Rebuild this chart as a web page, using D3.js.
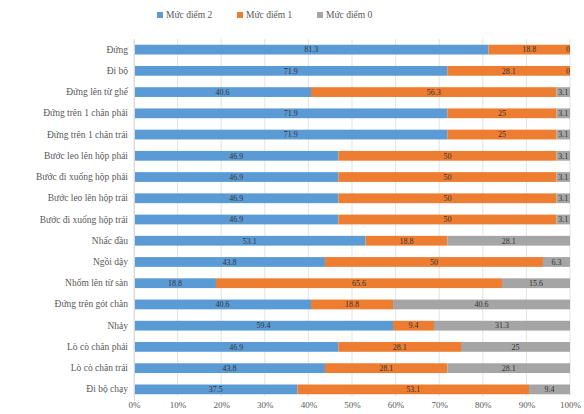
<!DOCTYPE html>
<html>
<head>
<meta charset="utf-8">
<script src="https://cdn.jsdelivr.net/npm/d3@7"></script>
<style>
  body { margin: 0; background: #fff; }
  svg { font-family: "Liberation Serif", "DejaVu Serif", serif; }
</style>
</head>
<body>
<div id="chart"></div>
<script>
const categories = [
  'Đứng', 'Đi bộ', 'Đứng lên từ ghế', 'Đứng trên 1 chân phải', 'Đứng trên 1 chân trái',
  'Bước leo lên hộp phải', 'Bước đi xuống hộp phải', 'Bước leo lên hộp trái', 'Bước đi xuống hộp trái',
  'Nhấc đầu', 'Ngồi dậy', 'Nhổm lên từ sàn', 'Đứng trên gót chân', 'Nhảy',
  'Lò cò chân phải', 'Lò cò chân trái', 'Đi bộ chạy'
];
const seriesNames = ['Mức điểm 2', 'Mức điểm 1', 'Mức điểm 0'];
const level2 = [81.3, 71.9, 40.6, 71.9, 71.9, 46.9, 46.9, 46.9, 46.9, 53.1, 43.8, 18.8, 40.6, 59.4, 46.9, 43.8, 37.5];
const level1 = [18.8, 28.1, 56.3, 25, 25, 50, 50, 50, 50, 18.8, 50, 65.6, 18.8, 9.4, 28.1, 28.1, 53.1];
const level0 = [0, 0, 3.1, 3.1, 3.1, 3.1, 3.1, 3.1, 3.1, 28.1, 6.3, 15.6, 40.6, 31.3, 25, 28.1, 9.4];
const ticks = [0, 10, 20, 30, 40, 50, 60, 70, 80, 90, 100];
const colors = ['#5b9bd5', '#ed7d31', '#a5a5a5'];

const width = 584;
const height = 414;
const margin = { top: 39, right: 14, bottom: 14, left: 134 };

const rows = categories.map((c, i) => ({ cat: c, v: [level2[i], level1[i], level0[i]] }));

const x = d3.scaleLinear().domain([0, 100]).range([margin.left, width - margin.right]);
const y = d3.scaleBand().domain(categories).range([margin.top, height - margin.bottom]).paddingInner(0.54).paddingOuter(0.27);

const svg = d3.select('#chart').append('svg').attr('width', width).attr('height', height);

// gridlines
svg.append('g')
  .selectAll('line')
  .data(ticks)
  .join('line')
  .attr('x1', d => x(d)).attr('x2', d => x(d))
  .attr('y1', margin.top).attr('y2', height - margin.bottom - 4)
  .attr('stroke', '#e3e3e3');

const segs = [];
rows.forEach(r => {
  let acc = 0;
  r.v.forEach((v, k) => {
    segs.push({ cat: r.cat, k, v, x0: acc, x1: acc + v });
    acc += v;
  });
});

svg.append('g')
  .selectAll('rect')
  .data(segs)
  .join('rect')
  .attr('x', d => x(d.x0))
  .attr('width', d => Math.max(0, x(Math.min(d.x1, 100)) - x(d.x0)))
  .attr('y', d => y(d.cat))
  .attr('height', y.bandwidth())
  .attr('fill', d => colors[d.k]);

svg.append('g')
  .selectAll('text')
  .data(segs)
  .join('text')
  .attr('x', d => d.v === 0 ? x(100) - 2 : x((d.x0 + Math.min(d.x1, 100)) / 2))
  .attr('y', d => y(d.cat) + y.bandwidth() / 2)
  .attr('dy', '0.35em')
  .attr('text-anchor', 'middle')
  .attr('font-size', 8)
  .attr('fill', '#333')
  .text(d => d.v);

// y axis
const yAxis = svg.append('g')
  .attr('transform', `translate(${margin.left},0)`)
  .call(d3.axisLeft(y).tickSize(0).tickPadding(6));
yAxis.select('.domain').attr('stroke', '#d9d9d9');
yAxis.selectAll('text').attr('font-size', 9.5).attr('fill', '#595959').attr('font-family', 'Liberation Serif');

// x axis
const xAxis = svg.append('g')
  .attr('transform', `translate(0,${height - margin.bottom - 4})`)
  .call(d3.axisBottom(x).tickValues(ticks).tickFormat(d => d + '%').tickSize(0).tickPadding(6));
xAxis.select('.domain').remove();
xAxis.selectAll('text').attr('font-size', 9).attr('fill', '#595959').attr('font-family', 'Liberation Serif');

// legend
const legend = svg.append('g').attr('transform', 'translate(157,15)');
const legX = [0, 80, 160];
seriesNames.forEach((n, i) => {
  const g = legend.append('g').attr('transform', `translate(${legX[i]},0)`);
  g.append('rect').attr('x', 0).attr('y', -3).attr('width', 6).attr('height', 6).attr('fill', colors[i]);
  g.append('text').attr('x', 9).attr('y', 0).attr('dy', '0.35em')
    .attr('font-size', 9.5).attr('fill', '#595959').attr('font-family', 'Liberation Serif').text(n);
});
</script>
</body>
</html>
